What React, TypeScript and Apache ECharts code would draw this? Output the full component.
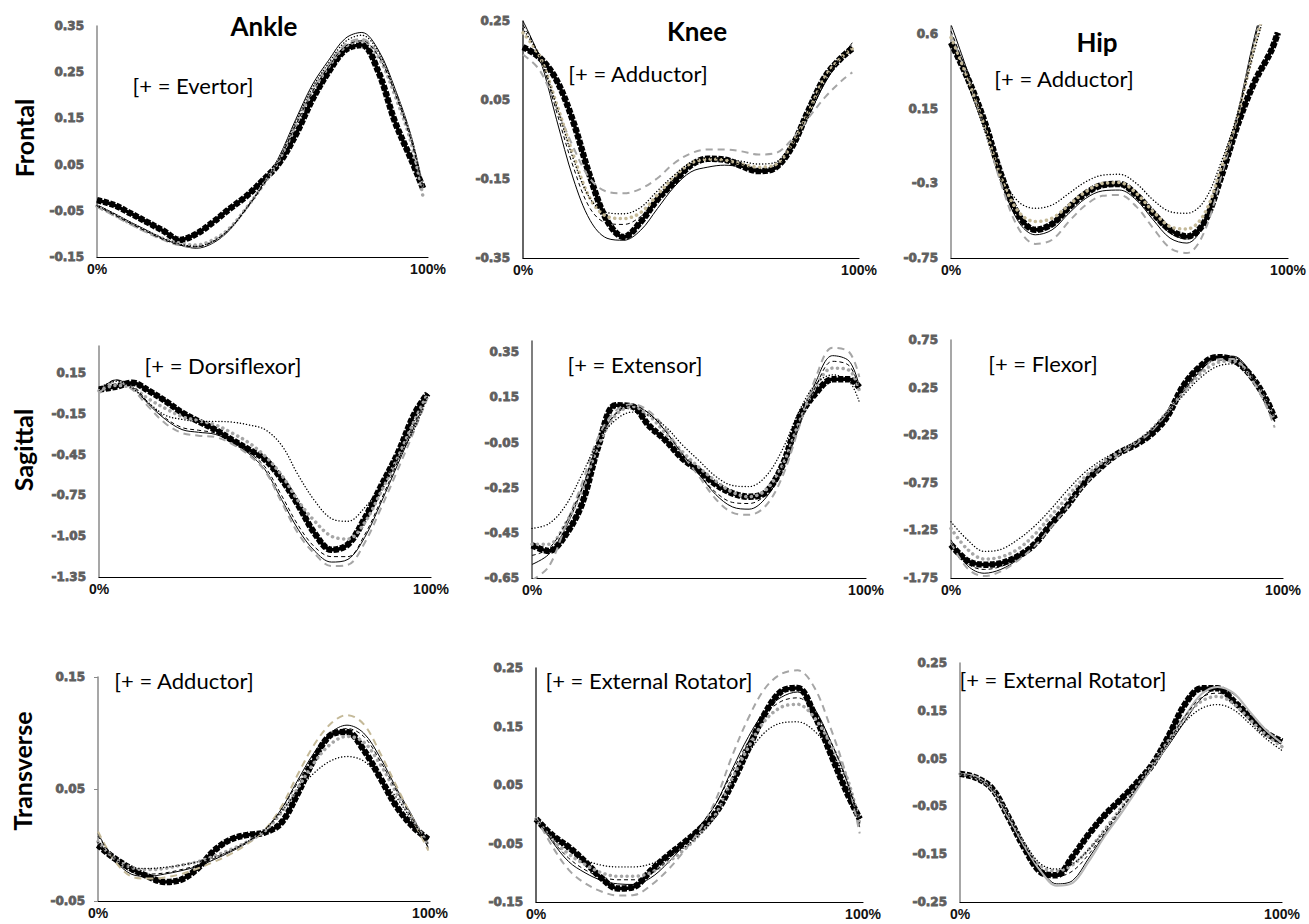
import React, { useEffect, useRef } from "react";
import * as echarts from "echarts";

// Percent of cycle at which values were read (last point per panel in END_PCT)
const PCT = [0, 5, 10, 15, 20, 25, 30, 35, 40, 45, 50, 55, 60, 65, 70, 75, 80, 85, 90, 95];
const END_PCT = [98.5, 98, 97, 99, 98, 97.5, 99.5, 99, 100];

const COL_TITLES = ["Ankle", "Knee", "Hip"];
const ROW_TITLES = ["Frontal", "Sagittal", "Transverse"];
const NOTES = [
  "[+ = Evertor]", "[+ = Adductor]", "[+ = Adductor]",
  "[+ = Dorsiflexor]", "[+ = Extensor]", "[+ = Flexor]",
  "[+ = Adductor]", "[+ = External Rotator]", "[+ = External Rotator]",
];

// ---------- Ankle Frontal ----------
const ankleFrontalMeasured = [-0.027, -0.037, -0.055, -0.074, -0.093, -0.113, -0.1, -0.075, -0.046, -0.019, 0.015, 0.053, 0.114, 0.19, 0.251, 0.298, 0.309, 0.251, 0.143, 0.06, -0.001];
const ankleFrontalSolid = [-0.037, -0.055, -0.074, -0.092, -0.11, -0.124, -0.131, -0.12, -0.092, -0.045, 0.006, 0.067, 0.147, 0.222, 0.276, 0.323, 0.336, 0.298, 0.215, 0.11, 0.002];
const ankleFrontalGrayDash = [-0.042, -0.06, -0.079, -0.097, -0.113, -0.125, -0.128, -0.117, -0.09, -0.046, 0.004, 0.062, 0.138, 0.212, 0.266, 0.31, 0.322, 0.288, 0.208, 0.105, 0.0];
const ankleFrontalGrayDots = [-0.04, -0.058, -0.077, -0.095, -0.11, -0.12, -0.124, -0.113, -0.088, -0.045, 0.004, 0.06, 0.135, 0.208, 0.262, 0.305, 0.318, 0.283, 0.2, 0.095, -0.02];
const ankleFrontalBlackDots = [-0.038, -0.056, -0.075, -0.093, -0.11, -0.122, -0.127, -0.116, -0.09, -0.046, 0.005, 0.064, 0.142, 0.216, 0.27, 0.316, 0.33, 0.294, 0.21, 0.105, 0.0];
const ankleFrontalBlackDash = [-0.04, -0.058, -0.077, -0.095, -0.112, -0.124, -0.128, -0.117, -0.09, -0.047, 0.003, 0.06, 0.135, 0.207, 0.262, 0.306, 0.318, 0.285, 0.205, 0.1, 0.0];

// ---------- Knee Frontal ----------
const kneeFrontalMeasured = [0.184, 0.157, 0.1, -0.006, -0.145, -0.255, -0.297, -0.259, -0.202, -0.158, -0.115, -0.099, -0.101, -0.117, -0.13, -0.122, -0.069, 0.024, 0.11, 0.159, 0.18];
const kneeFrontalSolid = [0.25, 0.155, 0.0, -0.15, -0.255, -0.3, -0.305, -0.28, -0.225, -0.17, -0.132, -0.12, -0.115, -0.12, -0.132, -0.125, -0.075, 0.01, 0.095, 0.16, 0.195];
const kneeFrontalGrayDash = [0.165, 0.125, 0.03, -0.07, -0.15, -0.182, -0.186, -0.175, -0.148, -0.11, -0.085, -0.075, -0.075, -0.08, -0.088, -0.085, -0.05, 0.005, 0.058, 0.1, 0.12];
const kneeFrontalGrayDots = [0.22, 0.16, 0.04, -0.09, -0.2, -0.245, -0.25, -0.235, -0.19, -0.145, -0.11, -0.1, -0.102, -0.112, -0.12, -0.115, -0.062, 0.02, 0.11, 0.16, 0.18];
const kneeFrontalBlackDots = [0.23, 0.16, 0.035, -0.1, -0.2, -0.235, -0.238, -0.222, -0.18, -0.14, -0.108, -0.097, -0.098, -0.105, -0.112, -0.108, -0.06, 0.02, 0.105, 0.16, 0.185];
const kneeFrontalBlackDash = [0.24, 0.16, 0.02, -0.12, -0.225, -0.262, -0.265, -0.245, -0.2, -0.15, -0.118, -0.105, -0.105, -0.113, -0.125, -0.12, -0.065, 0.018, 0.105, 0.16, 0.19];

// ---------- Hip Frontal ----------
const hipFrontalMeasured = [0.55, 0.333, 0.07, -0.255, -0.49, -0.58, -0.545, -0.445, -0.36, -0.31, -0.303, -0.37, -0.48, -0.58, -0.62, -0.54, -0.27, 0.05, 0.31, 0.5, 0.61];
const hipFrontalSolid = [0.66, 0.37, 0.05, -0.29, -0.53, -0.61, -0.58, -0.48, -0.39, -0.345, -0.34, -0.4, -0.52, -0.63, -0.66, -0.55, -0.25, 0.12, 0.58, 0.95, 1.05];
const hipFrontalGrayDash = [0.6, 0.34, 0.03, -0.31, -0.57, -0.665, -0.64, -0.53, -0.43, -0.375, -0.37, -0.44, -0.57, -0.69, -0.72, -0.6, -0.27, 0.1, 0.55, 0.92, 1.0];
const hipFrontalGrayDots = [0.58, 0.33, 0.04, -0.27, -0.47, -0.53, -0.51, -0.43, -0.35, -0.3, -0.295, -0.36, -0.47, -0.56, -0.575, -0.49, -0.22, 0.1, 0.52, 0.88, 0.98];
const hipFrontalBlackDots = [0.55, 0.3, 0.02, -0.25, -0.41, -0.45, -0.43, -0.36, -0.29, -0.25, -0.245, -0.3, -0.4, -0.47, -0.48, -0.41, -0.18, 0.12, 0.5, 0.86, 0.97];
const hipFrontalBlackDash = [0.62, 0.35, 0.04, -0.28, -0.52, -0.59, -0.56, -0.46, -0.37, -0.32, -0.315, -0.385, -0.5, -0.6, -0.635, -0.55, -0.25, 0.1, 0.56, 0.92, 1.02];

// ---------- Ankle Sagittal ----------
const ankleSagittalMeasured = [0.03, 0.05, 0.08, 0.02, -0.055, -0.14, -0.205, -0.265, -0.34, -0.41, -0.485, -0.63, -0.82, -1.03, -1.15, -1.11, -0.92, -0.68, -0.44, -0.15, 0.0];
const ankleSagittalSolid = [0.015, 0.1, 0.05, -0.08, -0.19, -0.265, -0.285, -0.3, -0.355, -0.44, -0.56, -0.78, -1.0, -1.16, -1.24, -1.22, -1.06, -0.8, -0.52, -0.24, -0.02];
const ankleSagittalGrayDash = [0.0, 0.09, 0.03, -0.1, -0.22, -0.29, -0.31, -0.32, -0.37, -0.45, -0.57, -0.8, -1.03, -1.18, -1.27, -1.26, -1.1, -0.84, -0.56, -0.27, -0.03];
const ankleSagittalGrayDots = [0.02, 0.06, 0.04, -0.04, -0.11, -0.17, -0.2, -0.23, -0.29, -0.36, -0.46, -0.6, -0.79, -0.94, -1.05, -1.07, -0.95, -0.72, -0.47, -0.2, 0.0];
const ankleSagittalBlackDots = [0.04, 0.09, 0.04, -0.07, -0.16, -0.19, -0.205, -0.205, -0.21, -0.23, -0.265, -0.38, -0.6, -0.79, -0.92, -0.94, -0.84, -0.68, -0.48, -0.26, -0.02];
const ankleSagittalBlackDash = [0.02, 0.1, 0.06, -0.07, -0.18, -0.25, -0.27, -0.29, -0.345, -0.43, -0.54, -0.75, -0.97, -1.13, -1.2, -1.2, -1.04, -0.78, -0.5, -0.22, -0.01];

// ---------- Knee Sagittal ----------
const kneeSagittalMeasured = [-0.505, -0.53, -0.46, -0.32, -0.06, 0.115, 0.11, 0.025, -0.04, -0.12, -0.175, -0.235, -0.275, -0.29, -0.27, -0.15, 0.06, 0.17, 0.23, 0.23, 0.195];
const kneeSagittalSolid = [-0.59, -0.545, -0.43, -0.255, -0.045, 0.075, 0.11, 0.08, 0.0, -0.1, -0.19, -0.28, -0.335, -0.345, -0.295, -0.17, 0.02, 0.22, 0.335, 0.31, 0.2];
const kneeSagittalGrayDash = [-0.66, -0.6, -0.42, -0.23, -0.02, 0.09, 0.12, 0.09, 0.01, -0.1, -0.2, -0.3, -0.36, -0.37, -0.33, -0.2, 0.02, 0.24, 0.37, 0.35, 0.24];
const kneeSagittalGrayDots = [-0.5, -0.5, -0.41, -0.26, -0.06, 0.07, 0.11, 0.07, -0.01, -0.09, -0.16, -0.22, -0.27, -0.29, -0.26, -0.15, 0.04, 0.2, 0.28, 0.27, 0.18];
const kneeSagittalBlackDots = [-0.43, -0.41, -0.33, -0.19, -0.04, 0.05, 0.085, 0.07, 0.02, -0.06, -0.13, -0.2, -0.24, -0.245, -0.2, -0.08, 0.09, 0.21, 0.25, 0.22, 0.13];
const kneeSagittalBlackDash = [-0.55, -0.52, -0.41, -0.25, -0.05, 0.08, 0.115, 0.08, 0.0, -0.1, -0.19, -0.27, -0.315, -0.32, -0.28, -0.16, 0.03, 0.2, 0.31, 0.29, 0.19];

// ---------- Hip Sagittal ----------
const hipSagittalMeasured = [-1.4, -1.57, -1.61, -1.595, -1.525, -1.4, -1.19, -0.99, -0.76, -0.59, -0.45, -0.36, -0.25, -0.06, 0.27, 0.47, 0.57, 0.54, 0.39, 0.12, -0.08];
const hipSagittalSolid = [-1.35, -1.62, -1.7, -1.66, -1.56, -1.42, -1.22, -1.0, -0.78, -0.6, -0.47, -0.35, -0.2, 0.0, 0.22, 0.42, 0.57, 0.58, 0.42, 0.1, -0.1];
const hipSagittalGrayDash = [-1.38, -1.65, -1.73, -1.68, -1.57, -1.42, -1.22, -1.0, -0.78, -0.6, -0.47, -0.36, -0.22, -0.02, 0.2, 0.41, 0.55, 0.55, 0.37, 0.05, -0.17];
const hipSagittalGrayDots = [-1.23, -1.45, -1.55, -1.53, -1.45, -1.3, -1.1, -0.9, -0.7, -0.55, -0.44, -0.34, -0.2, -0.01, 0.2, 0.39, 0.51, 0.53, 0.38, 0.1, -0.1];
const hipSagittalBlackDots = [-1.16, -1.35, -1.47, -1.45, -1.35, -1.21, -1.03, -0.83, -0.65, -0.52, -0.42, -0.33, -0.2, -0.02, 0.17, 0.35, 0.47, 0.5, 0.38, 0.12, -0.1];
const hipSagittalBlackDash = [-1.38, -1.6, -1.66, -1.63, -1.54, -1.4, -1.2, -0.99, -0.77, -0.6, -0.46, -0.35, -0.21, -0.01, 0.21, 0.42, 0.56, 0.57, 0.4, 0.1, -0.12];

// ---------- Ankle Transverse ----------
const ankleTransverseMeasured = [0.0, -0.012, -0.021, -0.028, -0.033, -0.031, -0.021, -0.005, 0.005, 0.009, 0.011, 0.019, 0.045, 0.076, 0.098, 0.101, 0.085, 0.06, 0.034, 0.016, 0.005];
const ankleTransverseSolid = [0.01, -0.013, -0.026, -0.028, -0.026, -0.023, -0.019, -0.013, -0.006, 0.002, 0.013, 0.031, 0.057, 0.082, 0.1, 0.107, 0.1, 0.078, 0.05, 0.024, -0.003];
const ankleTransverseGrayDash = [0.012, -0.014, -0.028, -0.03, -0.029, -0.026, -0.021, -0.015, -0.008, 0.001, 0.013, 0.033, 0.062, 0.089, 0.108, 0.116, 0.108, 0.082, 0.052, 0.022, -0.005];
const ankleTransverseGrayDots = [0.003, -0.012, -0.02, -0.022, -0.021, -0.018, -0.015, -0.01, -0.004, 0.003, 0.012, 0.028, 0.05, 0.073, 0.09, 0.097, 0.092, 0.072, 0.046, 0.022, 0.0];
const ankleTransverseBlackDots = [0.002, -0.012, -0.02, -0.021, -0.02, -0.018, -0.015, -0.011, -0.005, 0.003, 0.013, 0.029, 0.048, 0.064, 0.075, 0.079, 0.075, 0.06, 0.042, 0.02, 0.001];
const ankleTransverseBlackDash = [0.008, -0.012, -0.024, -0.026, -0.025, -0.022, -0.018, -0.012, -0.005, 0.003, 0.013, 0.031, 0.055, 0.08, 0.097, 0.104, 0.097, 0.075, 0.048, 0.022, -0.002];

// ---------- Knee Transverse ----------
const kneeTransverseMeasured = [-0.008, -0.036, -0.056, -0.081, -0.109, -0.127, -0.124, -0.097, -0.072, -0.05, -0.026, 0.003, 0.053, 0.113, 0.172, 0.21, 0.216, 0.172, 0.105, 0.038, -0.008];
const kneeTransverseSolid = [-0.005, -0.047, -0.081, -0.1, -0.113, -0.119, -0.12, -0.109, -0.085, -0.054, -0.021, 0.018, 0.077, 0.133, 0.176, 0.2, 0.209, 0.182, 0.126, 0.058, -0.022];
const kneeTransverseGrayDash = [-0.005, -0.055, -0.095, -0.118, -0.132, -0.139, -0.138, -0.122, -0.097, -0.065, -0.027, 0.025, 0.1, 0.165, 0.215, 0.24, 0.246, 0.218, 0.149, 0.064, -0.033];
const kneeTransverseGrayDots = [-0.008, -0.043, -0.068, -0.086, -0.1, -0.106, -0.106, -0.1, -0.083, -0.062, -0.035, 0.0, 0.06, 0.115, 0.16, 0.183, 0.188, 0.166, 0.121, 0.064, -0.016];
const kneeTransverseBlackDots = [-0.008, -0.04, -0.062, -0.078, -0.087, -0.09, -0.09, -0.085, -0.073, -0.058, -0.035, -0.003, 0.055, 0.105, 0.14, 0.156, 0.158, 0.143, 0.109, 0.058, -0.01];
const kneeTransverseBlackDash = [-0.008, -0.045, -0.075, -0.095, -0.107, -0.112, -0.112, -0.102, -0.08, -0.05, -0.02, 0.018, 0.072, 0.125, 0.17, 0.193, 0.199, 0.178, 0.126, 0.058, -0.016];

// ---------- Hip Transverse ----------
const hipTransverseMeasured = [0.018, 0.01, -0.013, -0.072, -0.137, -0.187, -0.194, -0.155, -0.108, -0.068, -0.035, 0.0, 0.04, 0.1, 0.165, 0.197, 0.197, 0.17, 0.138, 0.104, 0.086];
const hipTransverseSolid = [0.016, 0.01, -0.015, -0.07, -0.13, -0.18, -0.212, -0.205, -0.158, -0.108, -0.064, -0.014, 0.034, 0.08, 0.13, 0.176, 0.195, 0.185, 0.148, 0.11, 0.082];
const hipTransverseGrayDash = [0.018, 0.012, -0.016, -0.072, -0.133, -0.185, -0.216, -0.21, -0.165, -0.112, -0.065, -0.015, 0.035, 0.085, 0.14, 0.185, 0.2, 0.187, 0.148, 0.11, 0.082];
const hipTransverseGrayDots = [0.018, 0.01, -0.014, -0.07, -0.13, -0.175, -0.185, -0.172, -0.14, -0.098, -0.053, -0.008, 0.04, 0.09, 0.138, 0.17, 0.18, 0.165, 0.132, 0.1, 0.075];
const hipTransverseBlackDots = [0.018, 0.01, -0.014, -0.068, -0.125, -0.17, -0.181, -0.17, -0.14, -0.1, -0.055, -0.01, 0.037, 0.085, 0.128, 0.155, 0.163, 0.152, 0.123, 0.092, 0.067];
const hipTransverseBlackDash = [0.018, 0.01, -0.015, -0.07, -0.13, -0.18, -0.197, -0.185, -0.15, -0.105, -0.058, -0.01, 0.04, 0.088, 0.14, 0.178, 0.187, 0.172, 0.14, 0.105, 0.078];

// Y-axis scales per panel: [min, max, interval]
const Y_SCALES: number[][] = [
  [-0.15, 0.35, 0.1], [-0.35, 0.25, 0.2], [-0.75, 0.65, 0.45],
  [-1.35, 0.35, 0.3], [-0.65, 0.4, 0.2], [-1.75, 0.75, 0.5],
  [-0.05, 0.15, 0.1], [-0.15, 0.25, 0.1], [-0.25, 0.25, 0.1],
];

const PANEL_DATA = [
  [ankleFrontalMeasured, ankleFrontalSolid, ankleFrontalGrayDash, ankleFrontalGrayDots, ankleFrontalBlackDots, ankleFrontalBlackDash],
  [kneeFrontalMeasured, kneeFrontalSolid, kneeFrontalGrayDash, kneeFrontalGrayDots, kneeFrontalBlackDots, kneeFrontalBlackDash],
  [hipFrontalMeasured, hipFrontalSolid, hipFrontalGrayDash, hipFrontalGrayDots, hipFrontalBlackDots, hipFrontalBlackDash],
  [ankleSagittalMeasured, ankleSagittalSolid, ankleSagittalGrayDash, ankleSagittalGrayDots, ankleSagittalBlackDots, ankleSagittalBlackDash],
  [kneeSagittalMeasured, kneeSagittalSolid, kneeSagittalGrayDash, kneeSagittalGrayDots, kneeSagittalBlackDots, kneeSagittalBlackDash],
  [hipSagittalMeasured, hipSagittalSolid, hipSagittalGrayDash, hipSagittalGrayDots, hipSagittalBlackDots, hipSagittalBlackDash],
  [ankleTransverseMeasured, ankleTransverseSolid, ankleTransverseGrayDash, ankleTransverseGrayDots, ankleTransverseBlackDots, ankleTransverseBlackDash],
  [kneeTransverseMeasured, kneeTransverseSolid, kneeTransverseGrayDash, kneeTransverseGrayDots, kneeTransverseBlackDots, kneeTransverseBlackDash],
  [hipTransverseMeasured, hipTransverseSolid, hipTransverseGrayDash, hipTransverseGrayDots, hipTransverseBlackDots, hipTransverseBlackDash],
];

// ---------- layout (pixels) ----------
const GRIDS = [
  { left: 97, top: 26, width: 331, height: 231 },
  { left: 523, top: 21, width: 336, height: 237 },
  { left: 951, top: 26, width: 337, height: 232 },
  { left: 99, top: 346, width: 332, height: 231 },
  { left: 532, top: 341, width: 334, height: 237 },
  { left: 951, top: 340, width: 332, height: 238 },
  { left: 98, top: 677, width: 332, height: 224 },
  { left: 536, top: 668, width: 327, height: 234 },
  { left: 960, top: 663, width: 322, height: 239 },
];
const Y_LINE_COLORS = ["#8a8a8a", "#333", "#8a8a8a", "#8a8a8a", "#555", "#8a8a8a", "#8a8a8a", "#333", "#8a8a8a"];
const TAN = "#c4b998";
const GRAY = "#a6a6a6";
const DOT_COLORS = [GRAY, TAN, TAN, GRAY, GRAY, GRAY, GRAY, GRAY, GRAY];
const DASH_COLORS = [GRAY, GRAY, GRAY, GRAY, GRAY, GRAY, TAN, GRAY, "#b8b8b8"];
const NOTE_POS = [
  [193, 85], [638, 73], [1064, 78],
  [223, 365], [635, 364], [1043, 363],
  [184, 680], [649, 680], [1063, 679],
];
const TITLE_POS = [[264, 26], [697, 31], [1097, 42]];
const ROW_POS = [[24, 138], [23, 450], [22, 771]];

const FONT = "Lato, 'Open Sans', sans-serif";

function fmt(v: number) {
  return String(Number(v.toFixed(2)));
}

function buildOption() {
  const grid: any[] = [];
  const xAxis: any[] = [];
  const yAxis: any[] = [];
  const series: any[] = [];

  PANEL_DATA.forEach((set, i) => {
    const [ymin, ymax, yint] = Y_SCALES[i];
    grid.push({ ...GRIDS[i], containLabel: false });
    xAxis.push({
      type: "value",
      gridIndex: i,
      min: 0,
      max: 100,
      interval: 100,
      splitLine: { show: false },
      axisTick: { show: false },
      axisLine: { onZero: false, lineStyle: { color: "#000", width: 1.2 } },
      axisLabel: {
        formatter: (v: number) => v + "%",
        color: "#111",
        fontWeight: "bold",
        fontSize: 14,
        fontFamily: "'Liberation Sans', Arial, sans-serif",
        margin: 5,
      },
    });
    const steps = (ymax - ymin) / yint;
    const maxIsTick = Math.abs(steps - Math.round(steps)) < 1e-6;
    yAxis.push({
      type: "value",
      gridIndex: i,
      min: ymin,
      max: ymax,
      interval: yint,
      splitLine: { show: false },
      axisTick: { show: i === 6, length: 4, lineStyle: { color: "#8a8a8a" } },
      axisLine: { show: true, onZero: false, lineStyle: { color: Y_LINE_COLORS[i], width: 1.5 } },
      axisLabel: {
        showMaxLabel: maxIsTick,
        formatter: (v: number) => fmt(v),
        color: "#5f5f5f",
        fontWeight: "bold",
        fontSize: 12,
        fontFamily: "'DejaVu Sans', sans-serif",
        textBorderColor: "#5f5f5f",
        textBorderWidth: 0.8,
        margin: 13,
      },
    });

    const xs = [...PCT, END_PCT[i]];
    const styles = [
      { color: "#000", width: 6.5, type: [5, 1.6], cap: "butt" },
      { color: "#000", width: 1, type: "solid", cap: "butt" },
      { color: DASH_COLORS[i], width: 2, type: i === 8 ? "solid" : [7, 5], cap: "butt" },
      { color: DOT_COLORS[i], width: 3.5, type: [0.1, 5.5], cap: "round" },
      { color: "#000", width: 1.4, type: [0.1, 3], cap: "round" },
      { color: "#000", width: 1, type: [4, 3], cap: "butt" },
    ];
    set.forEach((vals, k) => {
      const data = xs.map((x, j) => [x, vals[j]]);
      if (k === 0) {
        // core of the measured (square-marker) trace
        series.push({
          type: "line",
          xAxisIndex: i,
          yAxisIndex: i,
          data,
          smooth: 0.35,
          showSymbol: false,
          symbol: "none",
          silent: true,
          clip: true,
          z: 2,
          lineStyle: { color: "#000", width: 3.5, type: "solid" },
        });
      }
      series.push({
        type: "line",
        xAxisIndex: i,
        yAxisIndex: i,
        data,
        smooth: 0.35,
        showSymbol: false,
        symbol: "none",
        silent: true,
        clip: true,
        z: k === 0 ? 2 : 3,
        lineStyle: styles[k],
      });
    });
  });

  const graphic: any[] = [];
  COL_TITLES.forEach((t, c) => {
    graphic.push({
      type: "text",
      x: TITLE_POS[c][0],
      y: TITLE_POS[c][1],
      style: { text: t, font: `bold 26px ${FONT}`, fill: "#000", align: "center", verticalAlign: "middle" },
    });
  });
  ROW_TITLES.forEach((t, r) => {
    graphic.push({
      type: "text",
      x: ROW_POS[r][0],
      y: ROW_POS[r][1],
      rotation: Math.PI / 2,
      style: { text: t, font: `bold 25px ${FONT}`, fill: "#000", align: "center", verticalAlign: "middle" },
    });
  });
  NOTES.forEach((t, i) => {
    graphic.push({
      type: "text",
      x: NOTE_POS[i][0],
      y: NOTE_POS[i][1],
      z: 10,
      style: { text: t, font: `22px ${FONT}`, fill: "#000", align: "center", verticalAlign: "middle" },
    });
  });

  return {
    animation: false,
    backgroundColor: "#fff",
    grid,
    xAxis,
    yAxis,
    series,
    graphic,
  };
}

export default function App() {
  const ref = useRef<HTMLDivElement>(null);
  useEffect(() => {
    if (!ref.current) return;
    const chart = echarts.init(ref.current, undefined, { renderer: "svg" });
    chart.setOption(buildOption() as any);
    return () => chart.dispose();
  }, []);
  return (
    <div
      ref={ref}
      style={{ position: "fixed", left: 0, top: 0, width: 1309, height: 924, background: "#fff" }}
    />
  );
}
